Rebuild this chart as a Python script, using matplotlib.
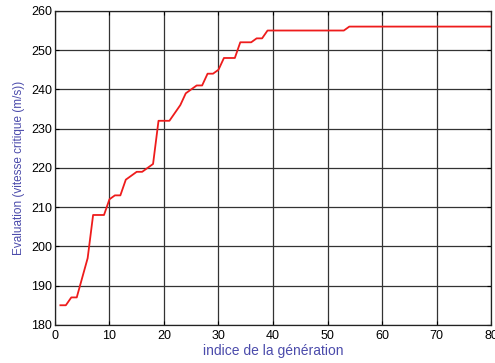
import numpy as np
import matplotlib.pyplot as plt

plt.rcParams['font.family'] = ['Liberation Sans', 'DejaVu Sans']

# best evaluation per generation
generations = np.arange(1, 81)
evaluation = ([185, 185, 187, 187, 192, 197, 208, 208, 208, 212,
               213, 213, 217, 218, 219, 219, 220, 221, 232, 232,
               232, 234, 236, 239, 240, 241, 241, 244, 244, 245,
               248, 248, 248, 252, 252, 252, 253, 253]
              + [255] * 15 + [256] * 27)

x_ticks = [0, 10, 20, 30, 40, 50, 60, 70, 80]
y_ticks = [180, 190, 200, 210, 220, 230, 240, 250, 260]

label_color = '#4b4bab'

fig = plt.figure(figsize=(4.95, 3.63), dpi=100)
ax = fig.add_axes([0.111, 0.105, 0.881, 0.865])

ax.plot(generations, evaluation, color='#ee1c1c', linewidth=1.3)

ax.set_xlim(0, 80)
ax.set_ylim(180, 260)
ax.set_xticks(x_ticks)
ax.set_yticks(y_ticks)
ax.grid(True, color='#333333', linewidth=0.9, linestyle='-')
ax.tick_params(direction='in', length=3, labelsize=9, top=True, right=True)
ax.tick_params(axis='x', pad=4)
ax.tick_params(axis='y', pad=2)
for s in ax.spines.values():
    s.set_color('#222222')
    s.set_linewidth(0.9)

ax.set_xlabel('indice de la génération', color=label_color, fontsize=10, labelpad=1)
ax.set_ylabel('Evaluation (vitesse critique (m/s))', color=label_color, fontsize=8.5, labelpad=4.5)

fig.savefig('out.png', dpi=100)
